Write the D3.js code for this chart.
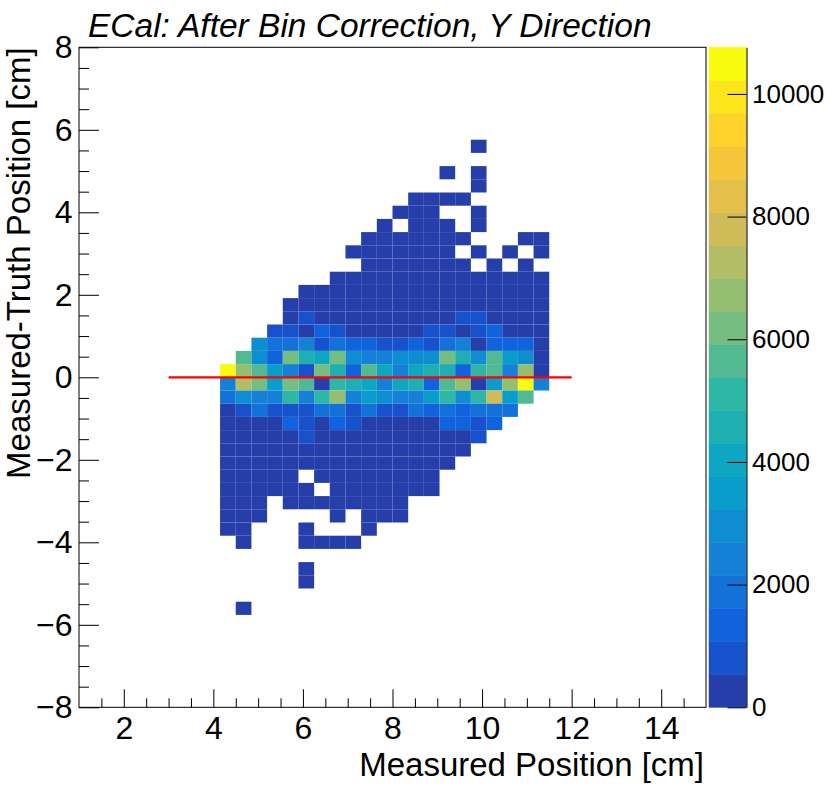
<!DOCTYPE html>
<html>
<head>
<meta charset="utf-8">
<script src="https://cdn.jsdelivr.net/npm/d3@7"></script>
<style>
  body { margin: 0; background: #fff; }
  svg { font-family: "Liberation Sans", Arial, sans-serif; }
</style>
</head>
<body>
<div class="canva"></div>
<script>
// histogram binning (ROOT TH2: 40 x 50 bins)
const xRange = [1, 15], nBinsX = 40;
const yRange = [-8, 8], nBinsY = 50;

// filled part of the histogram: x bin columns, y bin rows (top row first)
const xBinIndex = [9, 10, 11, 12, 13, 14, 15, 16, 17, 18, 19, 20, 21, 22, 23, 24, 25, 26, 27, 28, 29];
const yBinIndex = [42, 41, 40, 39, 38, 37, 36, 35, 34, 33, 32, 31, 30, 29, 28, 27, 26, 25, 24,
                   23, 22, 21, 20, 19, 18, 17, 16, 15, 14, 13, 12, 11, 10, 9, 8, 7];

// bin contents, one row per y bin
const counts = [
  [0,0,0,0,0,0,0,0,0,0,0,0,0,0,0,0,3,0,0,0,0],
  [0,0,0,0,0,0,0,0,0,0,0,0,0,0,0,0,0,0,0,0,0],
  [0,0,0,0,0,0,0,0,0,0,0,0,0,0,2,0,4,0,0,0,0],
  [0,0,0,0,0,0,0,0,0,0,0,0,0,0,0,0,5,0,0,0,0],
  [0,0,0,0,0,0,0,0,0,0,0,0,3,6,4,2,0,0,0,0,0],
  [0,0,0,0,0,0,0,0,0,0,0,4,7,5,0,0,6,0,0,0,0],
  [0,0,0,0,0,0,0,0,0,0,3,0,9,8,6,0,7,0,0,0,0],
  [0,0,0,0,0,0,0,0,0,5,10,12,11,9,8,6,0,0,0,4,3],
  [0,0,0,0,0,0,0,0,3,8,14,16,15,13,10,0,8,0,5,0,4],
  [0,0,0,0,0,0,0,0,0,12,19,22,20,18,14,11,0,9,0,6,0],
  [0,0,0,0,0,0,0,8,15,24,30,33,31,27,22,18,15,12,9,8,7],
  [0,0,0,0,0,6,14,25,38,47,52,50,44,36,30,25,21,17,14,12,10],
  [0,0,0,0,9,21,38,60,78,88,92,86,74,62,52,44,37,30,25,21,17],
  [0,0,0,0,140,560,180,250,310,340,350,330,290,250,220,590,610,190,140,110,90],
  [0,0,0,640,760,480,1120,820,470,500,510,490,520,560,600,530,700,1090,450,380,300],
  [0,0,2950,1880,1950,2300,920,1760,1400,1350,1010,980,1250,1030,1820,2420,480,1300,1420,1380,420],
  [0,5700,3050,1500,6250,4600,4050,6300,2980,2500,2600,2900,3000,3100,6150,4500,2950,5750,3550,3000,450],
  [10760,6800,5600,3600,2450,900,6100,4500,1450,5650,3900,2550,4100,4600,4700,1400,5200,5550,2500,6750,500],
  [2400,7250,6200,3500,6300,5700,520,5100,4550,4050,2450,3950,4600,1450,5650,6750,510,3450,6850,10520,2350],
  [1900,3000,2400,2350,5150,2500,5050,6700,2450,3550,2950,2300,2400,3500,5100,3000,5200,7800,3450,5600,0],
  [460,1000,1900,980,1020,1050,1950,1850,990,1800,1040,1010,1700,1350,1750,1300,1850,1800,1780,0,0],
  [430,500,510,520,1150,800,520,1200,780,500,490,470,450,430,1100,1120,820,1090,0,0,0],
  [260,300,330,360,400,600,420,410,390,370,350,320,300,280,260,250,560,0,0,0,0],
  [180,200,220,240,260,280,280,270,250,230,210,190,170,150,130,110,0,0,0,0,0],
  [120,140,150,160,170,180,180,170,160,150,130,110,95,80,60,0,0,0,0,0,0],
  [80,90,100,105,110,0,115,110,100,90,80,65,50,35,0,0,0,0,0,0,0],
  [55,60,65,70,72,75,0,72,68,60,50,40,30,20,0,0,0,0,0,0,0],
  [35,40,38,0,42,45,44,40,36,30,24,15,0,0,0,0,0,0,0,0,0],
  [22,25,20,0,0,0,0,18,0,16,12,8,0,0,0,0,0,0,0,0,0],
  [12,14,0,0,0,10,0,0,0,9,0,0,0,0,0,0,0,0,0,0,0],
  [0,8,0,0,0,7,6,5,4,0,0,0,0,0,0,0,0,0,0,0,0],
  [0,0,0,0,0,0,0,0,0,0,0,0,0,0,0,0,0,0,0,0,0],
  [0,0,0,0,0,3,0,0,0,0,0,0,0,0,0,0,0,0,0,0,0],
  [0,0,0,0,0,2,0,0,0,0,0,0,0,0,0,0,0,0,0,0,0],
  [0,0,0,0,0,0,0,0,0,0,0,0,0,0,0,0,0,0,0,0,0],
  [0,1,0,0,0,0,0,0,0,0,0,0,0,0,0,0,0,0,0,0,0]
];

// red fit line
const fitX = [3, 12];
const fitY = [0, 0];

const xTicks = [2, 4, 6, 8, 10, 12, 14];
const yTicks = [-8, -6, -4, -2, 0, 2, 4, 6, 8];
const zTicks = [0, 2000, 4000, 6000, 8000, 10000];

const titleText = "ECal: After Bin Correction, Y Direction";
const xTitle = "Measured Position [cm]";
const yTitle = "Measured-Truth Position [cm]";

// ---------------------------------------------------------------
const width = 830, height = 795;
const frame = { left: 79, right: 706, top: 47.3, bottom: 707.3 };
const pal = { left: 709, right: 746.5 };
const nLevels = 20;

const svg = d3.select(".canva").append("svg")
    .attr("width", width)
    .attr("height", height);

const x = d3.scaleLinear().domain(xRange).range([frame.left, frame.right]);
const y = d3.scaleLinear().domain(yRange).range([frame.bottom, frame.top]);

const bwX = (xRange[1] - xRange[0]) / nBinsX;
const bwY = (yRange[1] - yRange[0]) / nBinsY;

// kBird palette
const birdStops = [0.0, 0.125, 0.25, 0.375, 0.5, 0.625, 0.75, 0.875, 1.0];
const birdR = [0.2082, 0.0592, 0.0780, 0.0232, 0.1802, 0.5301, 0.8186, 0.9956, 0.9764];
const birdG = [0.1664, 0.3599, 0.5041, 0.6419, 0.7178, 0.7492, 0.7328, 0.7862, 0.9832];
const birdB = [0.5293, 0.8684, 0.8385, 0.7914, 0.6425, 0.4662, 0.3499, 0.1968, 0.0539];
const bird = d3.scaleLinear()
    .domain(birdStops)
    .range(birdStops.map((s, k) => d3.rgb(birdR[k] * 255, birdG[k] * 255, birdB[k] * 255)))
    .interpolate(d3.interpolateRgb);

const zMax = d3.max(counts.flat());
const levelColor = k => bird((k + 0.99) / nLevels);
const level = v => Math.min(nLevels - 1, Math.floor(v / zMax * nLevels));

// cells
const cells = [];
yBinIndex.forEach((j, r) => {
  xBinIndex.forEach((i, c) => {
    const v = counts[r][c];
    if (v > 0) cells.push({ i: i, j: j, v: v });
  });
});

svg.append("g")
  .selectAll("rect")
  .data(cells)
  .enter().append("rect")
    .attr("x", d => x(xRange[0] + d.i * bwX))
    .attr("y", d => y(yRange[0] + (d.j + 1) * bwY))
    .attr("width", d => x(xRange[0] + (d.i + 1) * bwX) - x(xRange[0] + d.i * bwX))
    .attr("height", d => y(yRange[0] + d.j * bwY) - y(yRange[0] + (d.j + 1) * bwY))
    .style("fill", d => levelColor(level(d.v)));

// fit line
svg.append("line")
    .attr("x1", x(fitX[0])).attr("x2", x(fitX[1]))
    .attr("y1", y(fitY[0])).attr("y2", y(fitY[1]))
    .style("stroke", "#ff0000")
    .style("stroke-width", 2.2);

// frame
svg.append("rect")
    .attr("x", frame.left).attr("y", frame.top)
    .attr("width", frame.right - frame.left)
    .attr("height", frame.bottom - frame.top)
    .style("fill", "none")
    .style("stroke", "#000")
    .style("stroke-width", 1);

// axes
const minorX = d3.range(xRange[0] + 0.5, xRange[1], 0.5).filter(v => xTicks.indexOf(v) < 0);
const minorY = d3.range(yRange[0] + 0.5, yRange[1], 0.5).filter(v => yTicks.indexOf(v) < 0);

function styleAxis(g, size) {
  g.select(".domain").remove();
  g.selectAll("line").style("stroke", "#000");
  g.selectAll("text").style("font-size", size + "px").style("fill", "#000")
    .style("font-family", "'Liberation Sans', Arial, sans-serif");
}

svg.append("g")
    .attr("transform", "translate(0," + frame.bottom + ")")
    .call(d3.axisBottom(x).tickValues(minorX).tickSize(-9).tickFormat(""))
    .call(g => styleAxis(g, 32));
svg.append("g")
    .attr("transform", "translate(0," + frame.bottom + ")")
    .call(d3.axisBottom(x).tickValues(xTicks).tickSize(-18).tickPadding(9))
    .call(g => styleAxis(g, 32));

svg.append("g")
    .attr("transform", "translate(" + frame.left + ",0)")
    .call(d3.axisLeft(y).tickValues(minorY).tickSize(-10).tickFormat(""))
    .call(g => styleAxis(g, 32));
svg.append("g")
    .attr("transform", "translate(" + frame.left + ",0)")
    .call(d3.axisLeft(y).tickValues(yTicks).tickSize(-20).tickPadding(6.5))
    .call(g => styleAxis(g, 32));

// palette (colour bar)
const z = d3.scaleLinear().domain([0, zMax]).range([frame.bottom, frame.top]);
svg.append("g")
  .selectAll("rect")
  .data(d3.range(nLevels))
  .enter().append("rect")
    .attr("x", pal.left)
    .attr("y", k => z((k + 1) * zMax / nLevels))
    .attr("width", pal.right - pal.left)
    .attr("height", k => z(k * zMax / nLevels) - z((k + 1) * zMax / nLevels))
    .style("fill", k => levelColor(k))
    .style("stroke", k => levelColor(k))
    .style("stroke-width", 0.5);

const zAxis = svg.append("g")
    .attr("transform", "translate(" + pal.right + ",0)")
    .call(d3.axisRight(z).tickValues(zTicks).tickSize(-19).tickSizeOuter(0)
      .tickPadding(5.5).tickFormat(d3.format("d")));
zAxis.select(".domain").style("stroke", "#000");
zAxis.selectAll("line").style("stroke", "#000");
zAxis.selectAll("text").style("font-size", "26px").style("fill", "#000")
    .style("font-family", "'Liberation Sans', Arial, sans-serif");

// titles
svg.append("text")
    .attr("x", 88).attr("y", 36.7)
    .style("font-size", "33.5px")
    .style("font-style", "italic")
    .text(titleText);

svg.append("text")
    .attr("x", 704).attr("y", 776)
    .attr("text-anchor", "end")
    .style("font-size", "33px")
    .text(xTitle);

svg.append("text")
    .attr("transform", "translate(30," + frame.top + ") rotate(-90)")
    .attr("text-anchor", "end")
    .style("font-size", "33px")
    .text(yTitle);
</script>
</body>
</html>
